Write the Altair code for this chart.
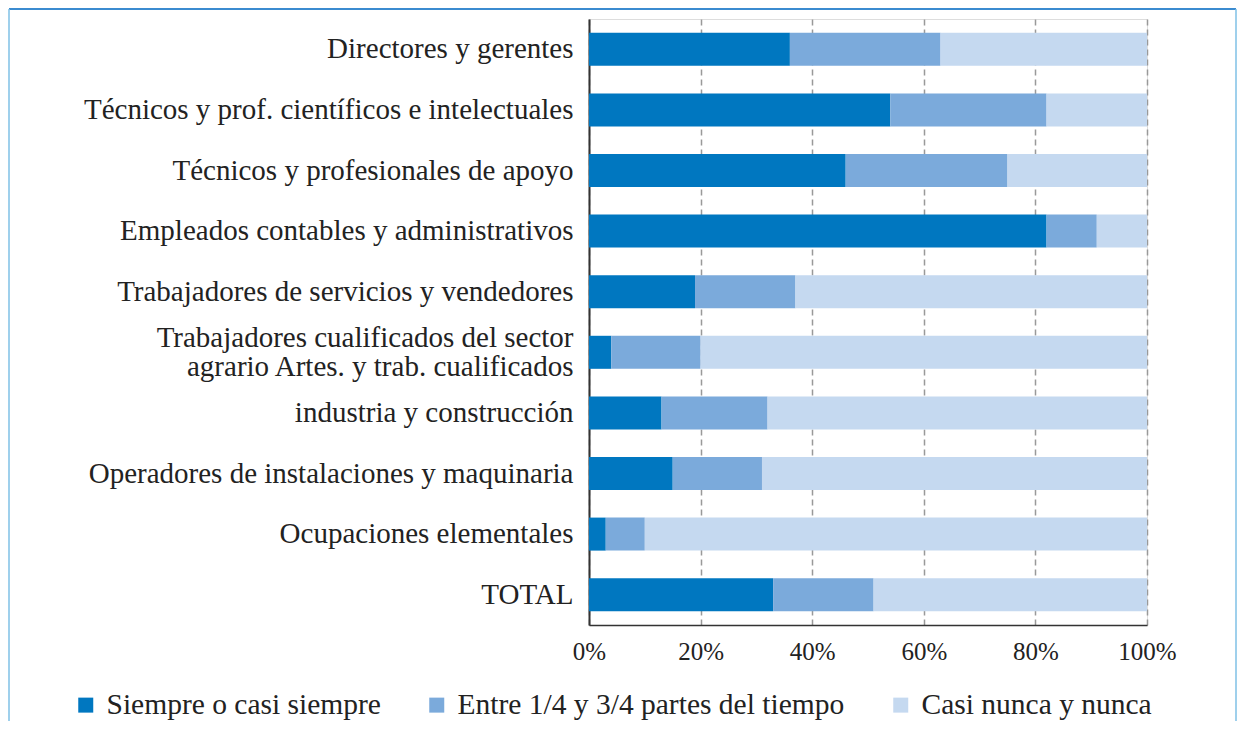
import altair as alt
import pandas as pd

categories = [
    "Directores y gerentes",
    "Técnicos y prof. científicos e intelectuales",
    "Técnicos y profesionales de apoyo",
    "Empleados contables y administrativos",
    "Trabajadores de servicios y vendedores",
    "Trabajadores cualificados del sector|agrario Artes. y trab. cualificados",
    "industria y construcción",
    "Operadores de instalaciones y maquinaria",
    "Ocupaciones elementales",
    "TOTAL",
]
series = ["Siempre o casi siempre", "Entre 1/4 y 3/4 partes del tiempo", "Casi nunca y nunca"]
siempre = [36, 54, 46, 82, 19, 4, 13, 15, 3, 33]
entre = [27, 28, 29, 9, 18, 16, 19, 16, 7, 18]
casi_nunca = [37, 18, 25, 9, 63, 80, 68, 69, 90, 49]
colors = ["#0077C0", "#7BAADB", "#C5D9F0"]
ticks = [0, 0.2, 0.4, 0.6, 0.8, 1.0]

rows = []
for i, c in enumerate(categories):
    for j, (s, vals) in enumerate(zip(series, [siempre, entre, casi_nunca])):
        rows.append({"cat": c, "serie": s, "val": vals[i], "ord": j})
df = pd.DataFrame(rows)

FONT = "Liberation Serif"

bars = alt.Chart(df).mark_bar().encode(
    y=alt.Y("cat:N", sort=categories, title=None,
            scale=alt.Scale(paddingInner=0.455, paddingOuter=0.2275),
            axis=alt.Axis(labelExpr="split(datum.label, '|')", labelFontSize=29,
                          labelFont=FONT, labelColor="#222", labelLineHeight=29,
                          labelOffset={"condition": {"test": "indexof(datum.value, '|') >= 0", "value": -14.5}, "value": 0},
                          ticks=False, labelPadding=16, domainColor="#333",
                          domainWidth=2, grid=False, labelLimit=600)),
    x=alt.X("val:Q", stack="normalize", title=None,
            scale=alt.Scale(domain=[0, 1], nice=False),
            axis=alt.Axis(values=ticks, format=".0%", labelFontSize=25, labelFont=FONT,
                          labelColor="#222", ticks=False, labelPadding=14, labelFlush=False,
                          domainColor="#333", domainWidth=1.5, grid=True,
                          gridDash=[6, 4], gridColor="#999", gridWidth=1.5)),
    color=alt.Color("serie:N", sort=series, title=None,
                    scale=alt.Scale(domain=series, range=colors),
                    legend=alt.Legend(orient="none", direction="horizontal",
                                      legendX=-518, legendY=671,
                                      symbolType="square", symbolSize=225,
                                      symbolStrokeWidth=0, symbolOpacity=1,
                                      labelFont=FONT, labelFontSize=29.5, labelColor="#222",
                                      labelOffset=6, columnPadding=41, labelLimit=600)),
    order=alt.Order("ord:Q"),
)

frame_df = pd.DataFrame({"k": [0]})
top_line = alt.Chart(frame_df).mark_rule(color="#3B8BD0", strokeWidth=2).encode(
    x=alt.value(-580), x2=alt.value(647), y=alt.value(-10))
left_line = alt.Chart(frame_df).mark_rule(color="#7FC0E6", strokeWidth=1.5).encode(
    x=alt.value(-580), y=alt.value(-10), y2=alt.value(720))
right_line = alt.Chart(frame_df).mark_rule(color="#7FC0E6", strokeWidth=1.5).encode(
    x=alt.value(647), y=alt.value(-10), y2=alt.value(720))

chart = alt.layer(bars, top_line, left_line, right_line).properties(
    width=558, height=606,
    autosize=alt.AutoSizeParams(type="none"),
    padding={"left": 581, "top": 11, "right": 90, "bottom": 96},
).configure_view(stroke=None).configure(background="white")

chart.save("out.html", embed_options={"renderer": "svg", "actions": False})
